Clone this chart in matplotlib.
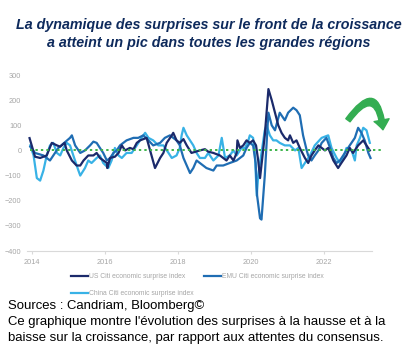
import matplotlib
matplotlib.use("Agg")
import matplotlib.pyplot as plt
from matplotlib.patches import FancyArrowPatch

# ---- data (decimal years, index values) ----
us_x = [2013.93, 2014.08, 2014.22, 2014.40, 2014.54, 2014.68, 2014.77, 2014.89, 2014.95, 2015.09,
        2015.22, 2015.32, 2015.41, 2015.54, 2015.68, 2015.77, 2015.86, 2016.05, 2016.06, 2016.14,
        2016.27, 2016.37, 2016.46, 2016.55, 2016.68, 2016.78, 2016.87, 2016.96, 2017.05, 2017.14,
        2017.37, 2017.51, 2017.60, 2017.69, 2017.83, 2017.87, 2017.96, 2018.05, 2018.15, 2018.24,
        2018.37, 2018.60, 2018.74, 2018.83, 2018.97, 2019.15, 2019.33, 2019.42, 2019.52, 2019.61,
        2019.63, 2019.70, 2019.79, 2019.88, 2019.97, 2020.06, 2020.14, 2020.20, 2020.25, 2020.38,
        2020.48, 2020.57, 2020.66, 2020.75, 2020.84, 2020.93, 2021.02, 2021.07, 2021.16, 2021.25,
        2021.34, 2021.48, 2021.57, 2021.66, 2021.75, 2021.85, 2021.94, 2022.03, 2022.12, 2022.26,
        2022.39, 2022.48, 2022.62, 2022.71, 2022.80, 2022.94, 2023.08, 2023.17, 2023.26]
us_y = [49, -25, -30, -20, 30, 20, 15, 30, 0, -40,
        -60, -60, -40, -20, -20, -10, -30, -50, -70, -30,
        -25, -10, 20, 0, 10, 5, 30, 40, 45, 50,
        -70, -30, -10, 30, 60, 70, 40, 30, 45, 20,
        -10, 0, 5, -5, -10, -20, -40, -20, -40, -10,
        40, 10, 20, 40, 30, 40, 20, -40, -110, 60,
        244, 200, 150, 100, 70, 50, 40, 60, 30, 40,
        10, -30, -50, -20, 0, 20, 10, 0, 10, -40,
        -70, -50, -20, 10, -10, 20, 40, 20, 0]

emu_x = [2013.95, 2014.08, 2014.31, 2014.49, 2014.72, 2015.04, 2015.09, 2015.18, 2015.32, 2015.45,
         2015.59, 2015.68, 2015.77, 2015.86, 2015.95, 2016.05, 2016.14, 2016.23, 2016.32, 2016.41,
         2016.59, 2016.78, 2016.91, 2017.05, 2017.19, 2017.32, 2017.51, 2017.64, 2017.78, 2017.96,
         2018.05, 2018.15, 2018.24, 2018.33, 2018.42, 2018.51, 2018.60, 2018.78, 2018.97, 2019.06,
         2019.24, 2019.42, 2019.61, 2019.79, 2019.88, 2019.97, 2020.06, 2020.13, 2020.17, 2020.25,
         2020.29, 2020.38, 2020.45, 2020.48, 2020.57, 2020.66, 2020.79, 2020.93, 2021.02, 2021.16,
         2021.25, 2021.34, 2021.43, 2021.53, 2021.57, 2021.66, 2021.75, 2021.85, 2021.94, 2022.07,
         2022.17, 2022.26, 2022.35, 2022.44, 2022.53, 2022.62, 2022.71, 2022.85, 2022.94, 2023.03,
         2023.12, 2023.22, 2023.28]
emu_y = [15, -10, -20, -40, 10, 50, 60, 20, -10, 0,
         20, 35, 30, 10, -10, -40, -30, -10, 0, 20,
         40, 50, 50, 60, 40, 20, 30, 50, 60, 40,
         20, -30, -60, -90, -70, -40, -50, -70, -80, -60,
         -60, -50, -40, -20, 10, 30, 20, -50, -180, -270,
         -275, -100, 80, 150, 100, 80, 150, 120, 150, 170,
         160, 140, 60, 0, -20, -40, -20, 0, 30, 50,
         10, -30, -50, -40, -20, 0, 20, 50, 90, 70,
         40, -10, -30]

cn_x = [2013.95, 2014.04, 2014.13, 2014.22, 2014.31, 2014.40, 2014.49, 2014.58, 2014.68, 2014.77,
        2014.86, 2014.95, 2015.04, 2015.13, 2015.27, 2015.32, 2015.45, 2015.54, 2015.63, 2015.77,
        2015.86, 2015.95, 2016.09, 2016.18, 2016.27, 2016.37, 2016.46, 2016.59, 2016.73, 2016.87,
        2017.00, 2017.10, 2017.19, 2017.32, 2017.46, 2017.60, 2017.74, 2017.83, 2017.96, 2018.05,
        2018.10, 2018.15, 2018.24, 2018.33, 2018.42, 2018.51, 2018.60, 2018.74, 2018.83, 2018.97,
        2019.11, 2019.20, 2019.29, 2019.42, 2019.52, 2019.61, 2019.74, 2019.84, 2019.93, 2019.97,
        2020.06, 2020.11, 2020.16, 2020.20, 2020.29, 2020.38, 2020.43, 2020.52, 2020.61, 2020.70,
        2020.79, 2020.93, 2021.07, 2021.21, 2021.30, 2021.39, 2021.48, 2021.62, 2021.75, 2021.94,
        2022.12, 2022.21, 2022.35, 2022.44, 2022.53, 2022.62, 2022.76, 2022.85, 2022.90, 2022.99,
        2023.08, 2023.17, 2023.26]
cn_y = [20, -20, -110, -120, -80, -20, 20, 30, -10, -20,
        10, 30, 20, -20, -80, -100, -70, -40, -50, -30,
        -20, -50, -70, -40, 10, -20, -30, -10, -10, 20,
        50, 70, 50, 40, 20, 20, -10, -30, -20, 10,
        60, 90, 60, 40, 20, -10, -30, -30, -10, -40,
        -20, 50, -30, -20, 0, -20, 10, 10, 40, 60,
        50, -20, -180, -100, -10, 80, 100, 60, 40, 40,
        30, 20, 20, 0, 10, -70, -50, -20, 20, 50,
        60, 10, -30, -50, -30, 10, 0, -40, 20, 50,
        90, 80, 30]

series_labels = ["US Citi economic surprise index",
                 "EMU Citi economic surprise index",
                 "China Citi economic surprise index"]
year_ticks = [2014, 2016, 2018, 2020, 2022]
value_ticks = [300, 200, 100, 0, -100, -200, -300, -400]

title = ("La dynamique des surprises sur le front de la croissance\n"
         "a atteint un pic dans toutes les grandes régions")
notes = ["Sources : Candriam, Bloomberg©",
         "Ce graphique montre l'évolution des surprises à la hausse et à la",
         "baisse sur la croissance, par rapport aux attentes du consensus."]

# ---- figure ----
plt.rcParams['font.family'] = ['Liberation Sans', 'DejaVu Sans']
W, H = 417, 351
fig = plt.figure(figsize=(W / 100, H / 100), dpi=100)
ax = fig.add_axes([27 / W, 1 - 251 / H, (372 - 27) / W, (251 - 75) / H])

c_us, c_emu, c_cn = "#1b2a6b", "#1f6db3", "#38b2e6"
lw = 1.6
l1, = ax.plot(us_x, us_y, color=c_us, lw=lw, label=series_labels[0], zorder=4)
l2, = ax.plot(emu_x, emu_y, color=c_emu, lw=lw, label=series_labels[1], zorder=3)
l3, = ax.plot(cn_x, cn_y, color=c_cn, lw=lw, label=series_labels[2], zorder=2)
ax.plot([2013.95, 2023.62], [0, 0], color="#3cb44b", lw=1.4, ls=(0, (1.2, 1.6)),
        zorder=5, clip_on=False)

ax.set_xlim(2013.86, 2023.32)
ax.set_ylim(-400, 300)
ax.set_xticks(year_ticks)
ax.set_xticklabels([str(y) for y in year_ticks])
ax.set_yticks(value_ticks)
ax.tick_params(axis='both', labelsize=5.3, colors="#a6a6a6", length=0, pad=4)
ax.tick_params(axis='x', length=2, color="#d9d9d9", pad=4)
for s in ['top', 'right', 'left']:
    ax.spines[s].set_visible(False)
ax.spines['bottom'].set_color("#d9d9d9")
ax.spines['bottom'].set_linewidth(0.8)
ax.patch.set_alpha(0)

# green curved arrow
arr = FancyArrowPatch((2022.66, 120), (2023.62, 82),
                      connectionstyle="arc3,rad=-1.3",
                      arrowstyle="simple,head_width=11,head_length=7,tail_width=3.8",
                      color="#34ad52", clip_on=False, zorder=6,
                      mutation_scale=1, shrinkA=0, shrinkB=0)
ax.add_patch(arr)

# legend
leg = fig.legend([l1, l3, l2], [series_labels[0], series_labels[2], series_labels[1]],
                 ncol=2, loc='upper left', bbox_to_anchor=(68 / W, 1 - 270 / H),
                 frameon=False, fontsize=4.9, handlelength=2.5, handletextpad=0.1,
                 columnspacing=1.5, borderpad=0, labelspacing=1.45)
for t in leg.get_texts():
    t.set_color("#a6a6a6")

fig.text(0.5, 1 - 34 / H, title, ha='center', va='center', fontsize=10.3,
         fontweight='bold', fontstyle='italic', color="#0e2a5c", linespacing=1.3)

for i, line in enumerate(notes):
    fig.text(8 / W, 1 - (306 + 16 * i) / H, line, ha='left', va='center',
             fontsize=9.45, color="black")

fig.savefig("out.png", dpi=100)
